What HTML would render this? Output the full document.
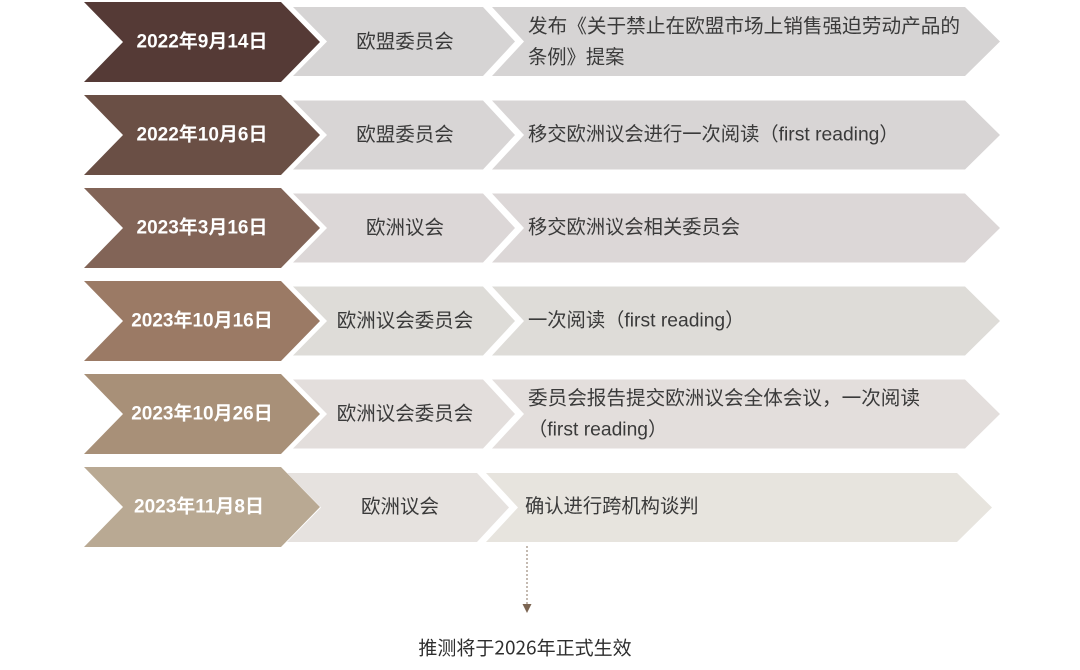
<!DOCTYPE html>
<html>
<head>
<meta charset="utf-8">
<style>
  html, body { margin: 0; padding: 0; background: #ffffff; }
  body { width: 1080px; height: 670px; overflow: hidden; }
  svg { display: block; }
  .date { font-family: "Liberation Sans", "Noto Sans CJK SC", sans-serif; font-weight: bold; font-size: 19px; fill: #ffffff; }
  .org { font-family: "Liberation Sans", "Noto Sans CJK SC", sans-serif; font-size: 19.5px; fill: #3a3a3a; }
  .desc { font-family: "Liberation Sans", "Noto Sans CJK SC", sans-serif; font-size: 19.3px; fill: #3a3a3a; }
  .foot { font-family: "Noto Sans CJK SC", "Liberation Sans", sans-serif; font-size: 19px; fill: #2e2e2e; }
</style>
</head>
<body>
<svg width="1080" height="670" viewBox="0 0 1080 670" xmlns="http://www.w3.org/2000/svg">
  <!-- Row 1: center 42 -->
  <polygon points="84,2 281,2 320,42 281,82 84,82 123,42" fill="#553a36"/>
  <polygon points="293,7 483,7 515,41.5 483,76 293,76 327,41.5" fill="#d6d4d4"/>
  <polygon points="492,7 965,7 1000,41.5 965,76 492,76 524,41.5" fill="#d6d4d4"/>
  <text class="date" x="202" y="42" text-anchor="middle" dominant-baseline="central">2022年9月14日</text>
  <text class="org" x="405" y="42" text-anchor="middle" dominant-baseline="central">欧盟委员会</text>
  <text class="desc" x="528" y="27" dominant-baseline="central" textLength="432" lengthAdjust="spacingAndGlyphs">发布《关于禁止在欧盟市场上销售强迫劳动产品的</text>
  <text class="desc" x="528" y="58" dominant-baseline="central">条例》提案</text>

  <!-- Row 2: center 135 -->
  <polygon points="84,95 281,95 320,135 281,175 84,175 123,135" fill="#6a4f45"/>
  <polygon points="293,100.5 483,100.5 515,135 483,169.5 293,169.5 327,135" fill="#d8d5d5"/>
  <polygon points="492,100.5 965,100.5 1000,135 965,169.5 492,169.5 524,135" fill="#d8d5d5"/>
  <text class="date" x="202" y="135" text-anchor="middle" dominant-baseline="central">2022年10月6日</text>
  <text class="org" x="405" y="135" text-anchor="middle" dominant-baseline="central">欧盟委员会</text>
  <text class="desc" x="528" y="135" dominant-baseline="central">移交欧洲议会进行一次阅读（first reading）</text>

  <!-- Row 3: center 228 -->
  <polygon points="84,188 281,188 320,228 281,268 84,268 123,228" fill="#826457"/>
  <polygon points="293,193.5 483,193.5 515,228 483,262.5 293,262.5 327,228" fill="#dcd7d7"/>
  <polygon points="492,193.5 965,193.5 1000,228 965,262.5 492,262.5 524,228" fill="#dcd7d7"/>
  <text class="date" x="202" y="228" text-anchor="middle" dominant-baseline="central">2023年3月16日</text>
  <text class="org" x="405" y="228" text-anchor="middle" dominant-baseline="central">欧洲议会</text>
  <text class="desc" x="528" y="228" dominant-baseline="central">移交欧洲议会相关委员会</text>

  <!-- Row 4: center 321 -->
  <polygon points="84,281 281,281 320,321 281,361 84,361 123,321" fill="#9b7a65"/>
  <polygon points="293,286.5 483,286.5 515,321 483,355.5 293,355.5 327,321" fill="#dedcd8"/>
  <polygon points="492,286.5 965,286.5 1000,321 965,355.5 492,355.5 524,321" fill="#dedcd8"/>
  <text class="date" x="202" y="321" text-anchor="middle" dominant-baseline="central">2023年10月16日</text>
  <text class="org" x="405" y="321" text-anchor="middle" dominant-baseline="central">欧洲议会委员会</text>
  <text class="desc" x="528" y="321" dominant-baseline="central">一次阅读（first reading）</text>

  <!-- Row 5: center 414 -->
  <polygon points="84,374 281,374 320,414 281,454 84,454 123,414" fill="#a89078"/>
  <polygon points="293,379.5 483,379.5 515,414 483,448.5 293,448.5 327,414" fill="#e3dedc"/>
  <polygon points="492,379.5 965,379.5 1000,414 965,448.5 492,448.5 524,414" fill="#e3dedc"/>
  <text class="date" x="202" y="414" text-anchor="middle" dominant-baseline="central">2023年10月26日</text>
  <text class="org" x="405" y="414" text-anchor="middle" dominant-baseline="central">欧洲议会委员会</text>
  <text class="desc" x="528" y="399" dominant-baseline="central" textLength="392" lengthAdjust="spacingAndGlyphs">委员会报告提交欧洲议会全体会议，一次阅读</text>
  <text class="desc" x="528" y="430" dominant-baseline="central">（first reading）</text>

  <!-- Row 6: center 507 -->
  <polygon points="84,467 281,467 320,507 281,547 84,547 123,507" fill="#b9a993"/>
  <polygon points="287,473 477,473 509,507.5 477,542 287,542 321,507.5" fill="#e6e2df"/>
  <polygon points="486,473 957,473 992,507.5 957,542 486,542 518,507.5" fill="#e7e4de"/>
  <text class="date" x="199" y="507" text-anchor="middle" dominant-baseline="central">2023年11月8日</text>
  <text class="org" x="400" y="507" text-anchor="middle" dominant-baseline="central">欧洲议会</text>
  <text class="desc" x="525" y="507" dominant-baseline="central">确认进行跨机构谈判</text>

  <!-- Dashed connector and arrow -->
  <line x1="527" y1="546" x2="527" y2="604" stroke="#8a7563" stroke-width="1" stroke-dasharray="2,2"/>
  <polygon points="522.5,604 531.5,604 527,613" fill="#7b6552"/>
  <text class="foot" x="525" y="647" text-anchor="middle" dominant-baseline="central">推测将于2026年正式生效</text>
</svg>
</body>
</html>
